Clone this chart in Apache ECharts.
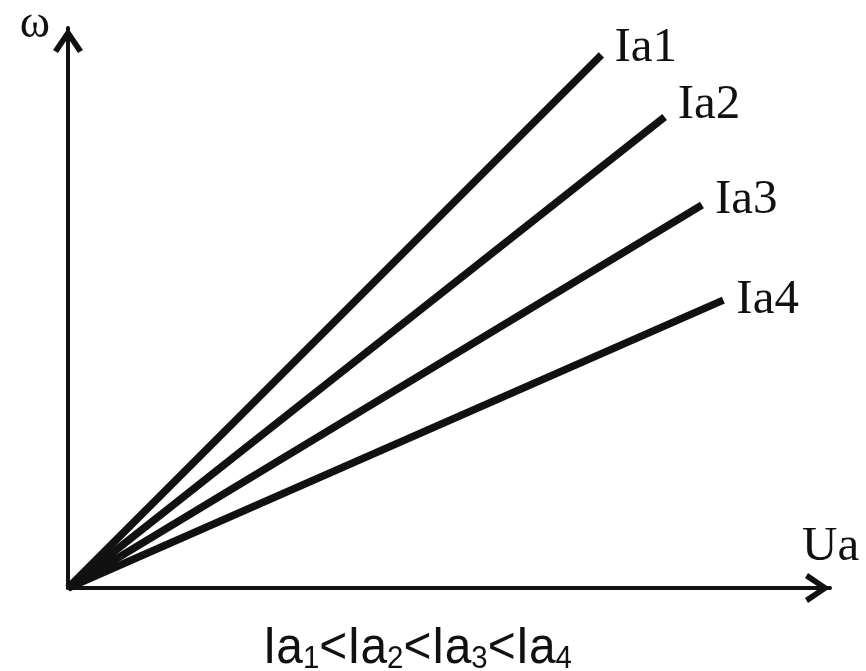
<!DOCTYPE html>
<html>
<head>
<meta charset="utf-8">
<script src="https://cdn.jsdelivr.net/npm/echarts@6/dist/echarts.min.js"></script>
<style>
  html, body { margin: 0; padding: 0; background: #ffffff; }
  #chart { width: 866px; height: 671px; }
</style>
</head>
<body>
<div id="chart"></div>
<script>
// Armature current curves: ω rises linearly with Ua, slope falls as Ia grows
const seriesNames = ['Ia1', 'Ia2', 'Ia3', 'Ia4'];
const uaEnd = [7.0, 7.83, 8.32, 8.6];
const omegaEnd = [9.52, 8.41, 6.84, 5.14];
const captionIndices = ['1', '2', '3', '4'];

const ink = '#111111';
const serif = 'Liberation Serif, Times New Roman, serif';
const sans = 'Liberation Sans, Arial, sans-serif';

// open chevron arrow head, pointing up (rotated by the axis builder)
const chevron = 'path://M0,22 L15,0 L30,22 L25,25 L15,10 L5,25 Z';

const labelOffsets = [[0, -7], [0, -12], [0, -5], [0, 0]];

const series = seriesNames.map((name, i) => ({
  name: name,
  type: 'line',
  symbol: 'none',
  silent: true,
  data: [[0, 0], [uaEnd[i], omegaEnd[i]]],
  lineStyle: { color: ink, width: 7.5, cap: 'butt' },
  endLabel: {
    show: true,
    formatter: '{a}',
    color: ink,
    fontFamily: serif,
    fontSize: 49,
    distance: 13,
    offset: labelOffsets[i]
  }
}));

// caption Ia1<Ia2<Ia3<Ia4 with subscript indices
const caption = captionIndices.map(k => '{m|Ia}{s|' + k + '}').join('{m|<}');

const axisCommon = {
  type: 'value',
  min: 0,
  max: 10,
  axisTick: { show: false },
  axisLabel: { show: false },
  splitLine: { show: false },
  axisLine: {
    show: true,
    symbol: ['none', chevron],
    symbolSize: [30, 25],
    symbolOffset: [0, -12.5],
    lineStyle: { color: ink, width: 4 }
  }
};

const chart = echarts.init(document.getElementById('chart'), null, { renderer: 'canvas' });
chart.setOption({
  animation: false,
  backgroundColor: '#ffffff',
  grid: { left: 68, right: 36, top: 28, bottom: 83, containLabel: false, outerBoundsMode: 'none' },
  xAxis: Object.assign({}, axisCommon, {
    name: 'Ua',
    nameLocation: 'end',
    nameGap: -28,
    nameTextStyle: {
      fontFamily: serif, fontSize: 49, color: ink,
      align: 'left', verticalAlign: 'bottom', lineHeight: 49,
      padding: [0, 0, 16, 0]
    }
  }),
  yAxis: Object.assign({}, axisCommon, {
    name: 'ω',
    nameLocation: 'end',
    nameGap: 3,
    nameTextStyle: {
      fontFamily: serif, fontSize: 46, color: ink,
      align: 'right', verticalAlign: 'middle',
      padding: [0, 18, 0, 0]
    }
  }),
  series: series,
  graphic: [{
    type: 'text',
    left: 263,
    top: 623,
    scaleX: 0.92,
    silent: true,
    style: {
      text: caption,
      fill: ink,
      rich: {
        m: { fontFamily: sans, fontSize: 52, lineHeight: 56, verticalAlign: 'bottom', fill: ink },
        s: { fontFamily: sans, fontSize: 32, lineHeight: 26, verticalAlign: 'bottom', fill: ink }
      }
    }
  }]
});
</script>
</body>
</html>
